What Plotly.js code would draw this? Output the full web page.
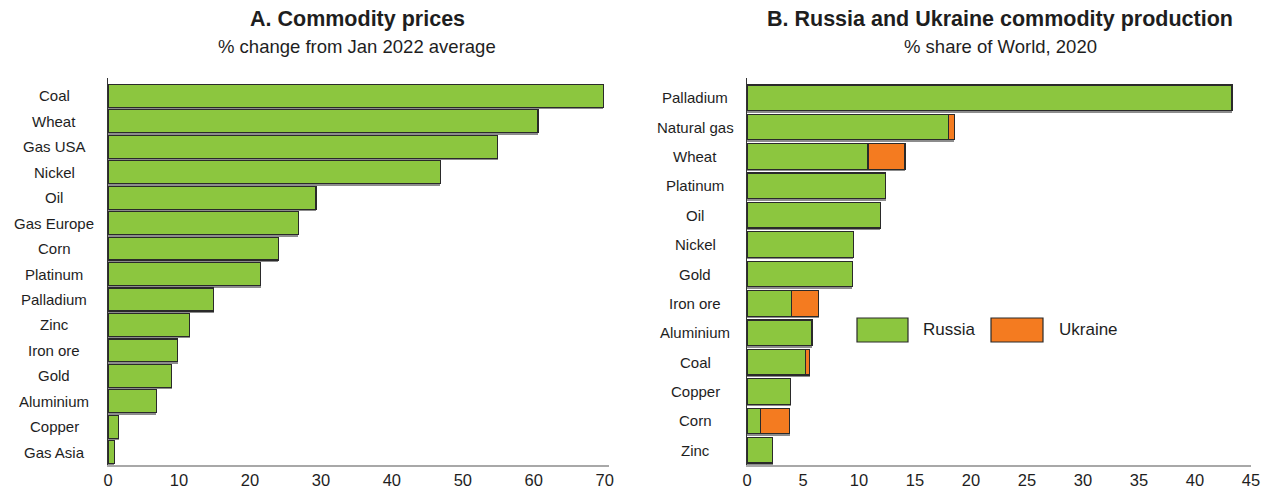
<!DOCTYPE html>
<html>
<head>
<meta charset="utf-8">
<script src="https://cdn.plot.ly/plotly-3.0.1.min.js"></script>
<style>
  html, body { margin: 0; padding: 0; background: #fff; }
  #chart { width: 1274px; height: 492px; }
</style>
</head>
<body>
<div id="chart"></div>
<script>
// ---- Panel A: commodity prices, % change from Jan 2022 average ----
var catsA = ['Coal', 'Wheat', 'Gas USA', 'Nickel', 'Oil', 'Gas Europe', 'Corn', 'Platinum',
             'Palladium', 'Zinc', 'Iron ore', 'Gold', 'Aluminium', 'Copper', 'Gas Asia'];
var valsA = [69.8, 60.6, 54.9, 46.8, 29.3, 26.8, 24.0, 21.5, 14.9, 11.5, 9.8, 9.0, 6.8, 1.5, 0.9];

// ---- Panel B: Russia and Ukraine share of world production, 2020 ----
var catsB = ['Palladium', 'Natural gas', 'Wheat', 'Platinum', 'Oil', 'Nickel', 'Gold',
             'Iron ore', 'Aluminium', 'Coal', 'Copper', 'Corn', 'Zinc'];
var russia  = [43.3, 18.0, 10.8, 12.4, 11.9, 9.5, 9.4, 4.0, 5.8, 5.2, 3.9, 1.2, 2.3];
var ukraine = [null, 0.5, 3.3, null, null, null, null, 2.4, null, 0.4, null, 2.6, null];

var tickValsA = [0, 10, 20, 30, 40, 50, 60, 70];
var tickValsB = [0, 5, 10, 15, 20, 25, 30, 35, 40, 45];

var GREEN = '#8cc63f', ORANGE = '#f47b20', EDGE = '#2a2a2a', SHADOW = '#8c8c8c';
var FONT = 'Liberation Sans, Arial, sans-serif';
var TXT = '#1e1e1e';

var wA = 0.9, wB = 0.87;
var shA = 0.08, shB = 0.07;

var traces = [
  // shadows (base axes, drawn underneath)
  { type: 'bar', orientation: 'h', y: catsA, x: valsA, xaxis: 'x', yaxis: 'y',
    width: wA, offset: -wA / 2 + shA, marker: { color: SHADOW }, hoverinfo: 'skip', showlegend: false },
  { type: 'bar', orientation: 'h', y: catsB, x: russia, xaxis: 'x2', yaxis: 'y2',
    width: wB, offset: -wB / 2 + shB, marker: { color: SHADOW }, hoverinfo: 'skip', showlegend: false },
  { type: 'bar', orientation: 'h', y: catsB, x: ukraine, xaxis: 'x2', yaxis: 'y2',
    width: wB, offset: -wB / 2 + shB, marker: { color: SHADOW }, hoverinfo: 'skip', showlegend: false },
  // main bars
  { type: 'bar', orientation: 'h', y: catsA, x: valsA, xaxis: 'x', yaxis: 'y3', name: 'Price change',
    width: wA, marker: { color: GREEN, line: { color: EDGE, width: 1.2 } }, showlegend: false },
  { type: 'bar', orientation: 'h', y: catsB, x: russia, xaxis: 'x2', yaxis: 'y4', name: 'Russia',
    width: wB, marker: { color: GREEN, line: { color: EDGE, width: 1.2 } }, showlegend: false },
  { type: 'bar', orientation: 'h', y: catsB, x: ukraine, xaxis: 'x2', yaxis: 'y4', name: 'Ukraine',
    width: wB, marker: { color: ORANGE, line: { color: EDGE, width: 1.2 } }, showlegend: false }
];

var yDom = [1 - 465 / 492, 1 - 78 / 492];
var rangeA = [catsA.length - 0.5, -0.7];
var rangeB = [catsB.length - 0.5, -0.67];

function catAxis(cats, range, extra) {
  var ax = { type: 'category', categoryorder: 'array', categoryarray: cats, range: range,
             domain: yDom, showticklabels: false, showgrid: false, zeroline: false, ticks: '',
             fixedrange: true };
  for (var k in extra) ax[k] = extra[k];
  return ax;
}
function valAxis(dom, range, tv, anchor) {
  return { domain: dom, range: range, tickmode: 'array', tickvals: tv, ticktext: tv.map(String),
           showgrid: false, zeroline: false, ticks: '', showline: true, linecolor: '#a8a8a8',
           linewidth: 1.5, anchor: anchor, ticklabelstandoff: 0,
           tickfont: { family: FONT, size: 16.5, color: TXT }, fixedrange: true };
}

var annotations = [];
function addTitle(xc, title, sub) {
  annotations.push({ xref: 'paper', yref: 'paper', x: xc, y: 1 - 19 / 492, xanchor: 'center', yanchor: 'middle',
    text: '<b>' + title + '</b>', showarrow: false, font: { family: FONT, size: 21.5, color: TXT } });
  annotations.push({ xref: 'paper', yref: 'paper', x: xc, y: 1 - 46 / 492, xanchor: 'center', yanchor: 'middle',
    text: sub, showarrow: false, font: { family: FONT, size: 18.5, color: TXT } });
}
addTitle(357 / 1274, 'A. Commodity prices', '% change from Jan 2022 average');
addTitle(1000 / 1274, 'B. Russia and Ukraine commodity production', '% share of World, 2020');

catsA.forEach(function (c) {
  annotations.push({ xref: 'paper', yref: 'y3', x: 54 / 1274, y: c, xanchor: 'center', yanchor: 'middle',
    text: c, showarrow: false, font: { family: FONT, size: 15, color: TXT } });
});
catsB.forEach(function (c) {
  annotations.push({ xref: 'paper', yref: 'y4', x: 695 / 1274, y: c, xanchor: 'center', yanchor: 'middle',
    text: c, showarrow: false, font: { family: FONT, size: 15, color: TXT } });
});

// custom legend (large key boxes, as in the original)
var legY0 = 1 - 342 / 492, legY1 = 1 - 318 / 492;
var shapes = [
  { type: 'rect', xref: 'paper', yref: 'paper', x0: 857 / 1274, x1: 908 / 1274, y0: legY0, y1: legY1,
    fillcolor: GREEN, line: { color: EDGE, width: 1.2 } },
  { type: 'rect', xref: 'paper', yref: 'paper', x0: 991 / 1274, x1: 1043 / 1274, y0: legY0, y1: legY1,
    fillcolor: ORANGE, line: { color: EDGE, width: 1.2 } }
];
annotations.push({ xref: 'paper', yref: 'paper', x: 921 / 1274, y: (legY0 + legY1) / 2, xanchor: 'left',
  yanchor: 'middle', text: 'Russia', showarrow: false, font: { family: FONT, size: 17, color: TXT } });
annotations.push({ xref: 'paper', yref: 'paper', x: 1057 / 1274, y: (legY0 + legY1) / 2, xanchor: 'left',
  yanchor: 'middle', text: 'Ukraine', showarrow: false, font: { family: FONT, size: 17, color: TXT } });

var layout = {
  width: 1274, height: 492,
  margin: { l: 0, r: 0, t: 0, b: 0 },
  paper_bgcolor: '#ffffff', plot_bgcolor: 'rgba(0,0,0,0)',
  barmode: 'stack',
  showlegend: false,
  font: { family: FONT, color: TXT },
  xaxis: valAxis([108 / 1274, 609 / 1274], [0, 70.6], tickValsA, 'y'),
  xaxis2: valAxis([747 / 1274, 1251 / 1274], [0, 45], tickValsB, 'y2'),
  yaxis: catAxis(catsA, rangeA, { anchor: 'x', showline: true, linecolor: '#333', linewidth: 1.5 }),
  yaxis2: catAxis(catsB, rangeB, { anchor: 'x2', showline: true, linecolor: '#333', linewidth: 1.5 }),
  yaxis3: catAxis(catsA, rangeA, { anchor: 'x', overlaying: 'y', showline: false }),
  yaxis4: catAxis(catsB, rangeB, { anchor: 'x2', overlaying: 'y2', showline: false }),
  annotations: annotations,
  shapes: shapes
};

Plotly.newPlot('chart', traces, layout, { displayModeBar: false, staticPlot: true });
</script>
</body>
</html>
